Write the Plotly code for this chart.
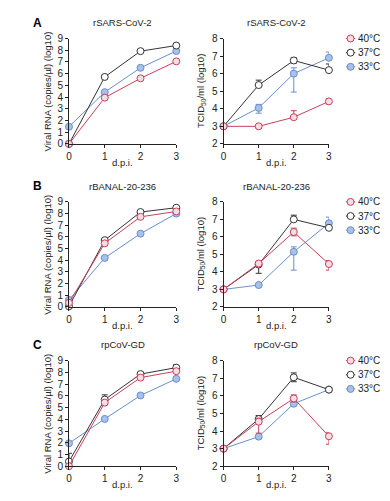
import plotly.graph_objects as go

# ---------------- data ----------------
days = [0, 1, 2, 3]
temps = ["40°C", "37°C", "33°C"]
viruses = ["rSARS-CoV-2", "rBANAL-20-236", "rpCoV-GD"]
panel_letters = ["A", "B", "C"]
rna_ticks = [0, 1, 2, 3, 4, 5, 6, 7, 8, 9]
tcid_ticks = [2, 3, 4, 5, 6, 7, 8]

# Viral RNA (log10 copies/µl)
rna_A_40 = [0.0, 3.95, 5.60, 7.05]
rna_A_37 = [0.0, 5.72, 7.92, 8.40]
rna_A_33 = [1.47, 4.42, 6.50, 7.93]
rna_A_40_err = [0.0, 0.12, 0.15, 0.15]
rna_A_37_err = [0.0, 0.15, 0.08, 0.08]
rna_A_33_err = [0.05, 0.08, 0.08, 0.08]

rna_B_40 = [0.35, 5.45, 7.72, 8.18]
rna_B_37 = [0.05, 5.72, 8.13, 8.50]
rna_B_33 = [0.60, 4.20, 6.28, 8.00]
rna_B_40_err = [0.10, 0.15, 0.10, 0.10]
rna_B_37_err = [0.05, 0.08, 0.08, 0.08]
rna_B_33_err = [0.05, 0.05, 0.05, 0.08]

rna_C_40 = [0.0, 5.42, 7.55, 8.10]
rna_C_37 = [0.40, 5.68, 7.85, 8.40]
rna_C_33 = [1.95, 4.03, 6.03, 7.45]
rna_C_40_err = [0.0, 0.15, 0.10, 0.10]
rna_C_37_err = [0.70, 0.40, 0.10, 0.25]
rna_C_33_err = [0.05, 0.05, 0.05, 0.05]

# TCID50/ml (log10): upper / lower error
tc_A_40 = [3.0, 3.0, 3.52, 4.42]
tc_A_37 = [3.0, 5.35, 6.75, 6.20]
tc_A_33 = [3.0, 4.05, 6.00, 6.90]
tc_A_40_up = [0.0, 0.0, 0.37, 0.15]
tc_A_40_dn = [0.0, 0.0, 0.0, 0.15]
tc_A_37_up = [0.0, 0.28, 0.15, 0.35]
tc_A_37_dn = [0.0, 0.0, 0.15, 0.0]
tc_A_33_up = [0.0, 0.20, 0.33, 0.33]
tc_A_33_dn = [0.0, 0.30, 1.05, 0.0]

tc_B_40 = [3.0, 4.48, 6.28, 4.45]
tc_B_37 = [3.0, 4.42, 7.00, 6.52]
tc_B_33 = [3.0, 3.25, 5.15, 6.78]
tc_B_40_up = [0.0, 0.12, 0.22, 0.20]
tc_B_40_dn = [0.0, 0.12, 0.22, 0.35]
tc_B_37_up = [0.0, 0.0, 0.24, 0.0]
tc_B_37_dn = [0.0, 0.50, 0.0, 0.0]
tc_B_33_up = [0.0, 0.05, 0.28, 0.35]
tc_B_33_dn = [0.0, 0.0, 1.05, 0.0]

tc_C_40 = [3.0, 4.53, 5.85, 3.70]
tc_C_37 = [3.0, 4.68, 7.05, 6.35]
tc_C_33 = [3.0, 3.68, 5.55, 6.35]
tc_C_40_up = [0.0, 0.20, 0.20, 0.20]
tc_C_40_dn = [0.0, 0.65, 0.20, 0.45]
tc_C_37_up = [0.0, 0.20, 0.25, 0.08]
tc_C_37_dn = [0.0, 0.20, 0.25, 0.08]
tc_C_33_up = [0.0, 0.05, 0.10, 0.08]
tc_C_33_dn = [0.0, 0.05, 0.10, 0.08]

rna_sets = [
    [(rna_A_40, rna_A_40_err, rna_A_40_err), (rna_A_37, rna_A_37_err, rna_A_37_err), (rna_A_33, rna_A_33_err, rna_A_33_err)],
    [(rna_B_40, rna_B_40_err, rna_B_40_err), (rna_B_37, rna_B_37_err, rna_B_37_err), (rna_B_33, rna_B_33_err, rna_B_33_err)],
    [(rna_C_40, rna_C_40_err, rna_C_40_err), (rna_C_37, rna_C_37_err, rna_C_37_err), (rna_C_33, rna_C_33_err, rna_C_33_err)],
]
tc_sets = [
    [(tc_A_40, tc_A_40_up, tc_A_40_dn), (tc_A_37, tc_A_37_up, tc_A_37_dn), (tc_A_33, tc_A_33_up, tc_A_33_dn)],
    [(tc_B_40, tc_B_40_up, tc_B_40_dn), (tc_B_37, tc_B_37_up, tc_B_37_dn), (tc_B_33, tc_B_33_up, tc_B_33_dn)],
    [(tc_C_40, tc_C_40_up, tc_C_40_dn), (tc_C_37, tc_C_37_up, tc_C_37_dn), (tc_C_33, tc_C_33_up, tc_C_33_dn)],
]

# ---------------- styling ----------------
W, H = 390, 501
FONT = "Liberation Sans, Arial, sans-serif"
TXT = "#222222"
line_cols = ["#c8405c", "#333333", "#6a8ecd"]
fill_cols = ["#f7dde3", "#ffffff", "#a9c0e8"]
draw_order = [2, 1, 0]  # blue, black, red on top
MSIZE = 7

row_px = [(33.3, 141.3), (200.7, 308.3), (363.3, 471.5)]
col_px = [(67, 176), (224, 331)]
legend_row_offsets = [0.0, 14.5, 29.0]


def fx(x):
    return x / W


def fy(y):
    return 1 - y / H


fig = go.Figure()
layout = dict(
    width=W, height=H,
    margin=dict(l=0, r=0, t=0, b=0, pad=0),
    paper_bgcolor="white", plot_bgcolor="white",
    showlegend=False, hovermode=False,
    font=dict(family=FONT, color=TXT, size=10),
)
annotations = []

axis_common = dict(
    showline=True, linecolor=TXT, linewidth=1, ticks="outside", ticklen=3,
    tickwidth=1, tickcolor=TXT, showgrid=False, zeroline=False,
    tickfont=dict(size=10, family=FONT, color=TXT), fixedrange=True,
)

for r in range(3):
    top, bot = row_px[r]
    for c in range(2):
        idx = 2 * r + c + 1
        sfx = "" if idx == 1 else str(idx)
        x0, x1 = col_px[c]
        layout["xaxis" + sfx] = dict(
            axis_common, domain=[fx(x0), fx(x1)], range=[0, 3],
            tickvals=days, anchor="y" + sfx,
        )
        if c == 0:
            yticks, yr = rna_ticks, [0, 9]
            sets = rna_sets[r]
        else:
            yticks, yr = tcid_ticks, [2, 8]
            sets = tc_sets[r]
        layout["yaxis" + sfx] = dict(
            axis_common, domain=[fy(bot), fy(top)], range=yr,
            tickvals=yticks, anchor="x" + sfx,
        )
        for i in draw_order:
            vals, up, dn = sets[i]
            fig.add_trace(go.Scatter(
                x=days, y=vals, mode="lines+markers",
                xaxis="x" + sfx, yaxis="y" + sfx,
                line=dict(color=line_cols[i], width=1),
                marker=dict(size=MSIZE, color=fill_cols[i],
                            line=dict(color=line_cols[i], width=1)),
                error_y=dict(type="data", array=up, arrayminus=dn,
                             symmetric=False, color=line_cols[i],
                             thickness=1, width=3),
                cliponaxis=False, name=temps[i],
            ))
        xc = (x0 + x1) / 2
        annotations.append(dict(
            text=viruses[r], x=fx(xc), y=fy(top - 16), xref="paper", yref="paper",
            xanchor="center", yanchor="middle", showarrow=False,
            font=dict(size=9.5, family=FONT, color=TXT)))
        annotations.append(dict(
            text="d.p.i.", x=fx(xc), y=fy(bot + 19), xref="paper", yref="paper",
            xanchor="center", yanchor="middle", showarrow=False,
            font=dict(size=9.5, family=FONT, color=TXT)))
        ytitle = "Viral RNA (copies/µl) (log10)" if c == 0 else "TCID<sub>50</sub>/ml (log10)"
        ytx = 45 if c == 0 else 201
        annotations.append(dict(
            text=ytitle, x=fx(ytx), y=fy((top + bot) / 2), xref="paper", yref="paper",
            xanchor="center", yanchor="middle", textangle=-90, showarrow=False,
            font=dict(size=9.5, family=FONT, color=TXT)))
    annotations.append(dict(
        text="<b>" + panel_letters[r] + "</b>", x=fx(35), y=fy(top - 16),
        xref="paper", yref="paper", xanchor="center", yanchor="middle",
        showarrow=False, font=dict(size=12, family=FONT, color="#000")))

    # legend for this row, drawn on its own small hidden axes
    ls = str(7 + r)
    step = legend_row_offsets[1]
    layout["xaxis" + ls] = dict(domain=[fx(348), fx(358)], range=[0, 1],
                                visible=False, anchor="y" + ls, fixedrange=True)
    layout["yaxis" + ls] = dict(domain=[fy(top + 2.5 * step), fy(top - 0.5 * step)],
                                range=[-0.5, 2.5], visible=False, anchor="x" + ls,
                                fixedrange=True)
    for i in range(3):
        yy = 2 - i
        fig.add_trace(go.Scatter(
            x=[0, 1], y=[yy, yy], mode="lines", xaxis="x" + ls, yaxis="y" + ls,
            line=dict(color=line_cols[i], width=1), cliponaxis=False, hoverinfo="skip"))
        fig.add_trace(go.Scatter(
            x=[0.5], y=[yy], mode="markers", xaxis="x" + ls, yaxis="y" + ls,
            marker=dict(size=MSIZE, color=fill_cols[i], line=dict(color=line_cols[i], width=1)),
            cliponaxis=False, hoverinfo="skip"))
        annotations.append(dict(
            text=temps[i], x=fx(359), y=fy(top + legend_row_offsets[i]),
            xref="paper", yref="paper",
            xanchor="left", yanchor="middle", showarrow=False,
            font=dict(size=10, family=FONT, color=TXT)))

layout["annotations"] = annotations
fig.update_layout(**layout)
fig.write_html(
    "out.html",
    config={"displayModeBar": False, "staticPlot": True},
    post_script="document.body.style.margin='0px';document.body.style.padding='0px';",
)
